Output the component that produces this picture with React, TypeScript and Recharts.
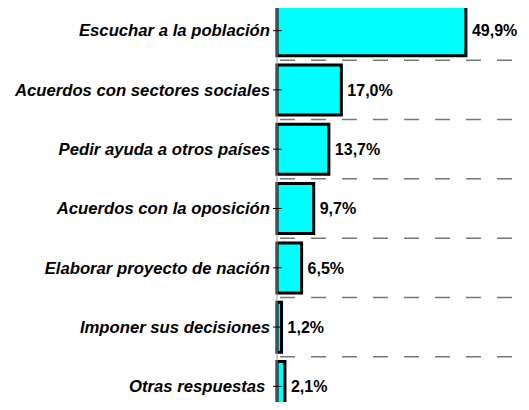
import { BarChart, Bar, XAxis, YAxis, CartesianGrid, LabelList } from 'recharts'

const categories = [
  'Escuchar a la población',
  'Acuerdos con sectores sociales',
  'Pedir ayuda a otros países',
  'Acuerdos con la oposición',
  'Elaborar proyecto de nación',
  'Imponer sus decisiones',
  'Otras respuestas ',
]
const values = [49.9, 17.0, 13.7, 9.7, 6.5, 1.2, 2.1]

const data = categories.map((name, i) => ({ name, value: values[i] }))

const FONT = '"Liberation Sans", Arial, sans-serif'

function CategoryTick(props: any) {
  const { x, y, payload } = props
  return (
    <g>
      <line x1={x - 4} x2={x + 5} y1={y} y2={y} stroke="#000" strokeWidth={1} />
      <text
        x={x - 7}
        y={y}
        dy="0.35em"
        textAnchor="end"
        fill="#000"
        fontFamily={FONT}
        fontSize={16.7}
        fontWeight="bold"
        fontStyle="italic"
        style={{ whiteSpace: 'pre' }}
      >
        {payload.value}
      </text>
    </g>
  )
}

const fmt = (v: any) => `${Number(v).toFixed(1).replace('.', ',')}%`

// dashed lines sit on the band boundaries, not on the category centres
const bandEdges = ({ offset }: any) =>
  [...categories, ''].map((_, i) => offset.top + (i * offset.height) / categories.length)

export default function App() {
  return (
    <div
      style={{
        margin: -8,
        width: 529,
        height: 410,
        overflow: 'hidden',
        position: 'relative',
        borderLeft: '1px solid #c0c0c0',
        boxSizing: 'border-box',
        background: '#fff',
      }}
    >
      <BarChart
        width={541}
        height={416}
        data={data}
        layout="vertical"
        margin={{ top: 1, right: 0, bottom: 0, left: 0 }}
        barCategoryGap="8%"
      >
        <CartesianGrid
          vertical={false}
          horizontalCoordinatesGenerator={bandEdges}
          stroke="#777"
          strokeWidth={1.5}
          strokeDasharray="0 3 15 13"
        />
        <XAxis type="number" domain={[0, 70]} hide />
        <YAxis
          type="category"
          dataKey="name"
          width={276}
          tickSize={0}
          tickMargin={0}
          tickLine={false}
          axisLine={{ stroke: '#999', strokeWidth: 1 }}
          tick={<CategoryTick />}
          interval={0}
        />
        <Bar
          dataKey="value"
          fill="#00ffff"
          stroke="#000"
          strokeWidth={3}
          isAnimationActive={false}
        >
          <LabelList
            dataKey="value"
            position="right"
            offset={6}
            formatter={fmt}
            fill="#000"
            fontFamily={FONT}
            fontSize={16}
            fontWeight="bold"
          />
        </Bar>
      </BarChart>
    </div>
  )
}
